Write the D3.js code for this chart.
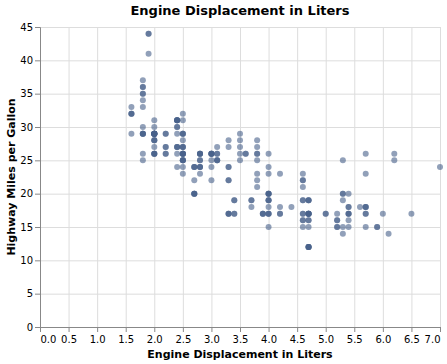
<!DOCTYPE html>
<html>
<head>
<meta charset="utf-8">
<script src="https://cdn.jsdelivr.net/npm/d3@7"></script>
<style>
  body { margin: 0; background: #fff; }
  text { font-family: "DejaVu Sans", sans-serif; }
</style>
</head>
<body>
<svg id="chart"></svg>
<script>
// engine displacement (litres), one entry per car
var displ = [
  1.8,1.8,2.0,2.0,2.8,2.8,3.1, 1.8,1.8,2.0,2.0,2.8,2.8,3.1,3.1, 2.8,3.1,4.2,
  5.3,5.3,5.3,5.7,6.0, 5.7,5.7,6.2,6.2,7.0, 5.3,5.3,5.7,6.5, 2.4,2.4,3.1,3.5,3.6,
  2.4,3.0,3.3,3.3,3.3,3.3,3.3,3.8,3.8,3.8,4.0, 3.7,3.7,3.9,3.9,4.7,4.7,4.7,5.2,5.2,
  3.9,4.7,4.7,4.7,5.2,5.7,5.9, 4.7,4.7,4.7,4.7,4.7,4.7,5.2,5.2,5.7,5.9,
  4.6,5.4,5.4, 4.0,4.0,4.0,4.0,4.6,5.0, 4.2,4.2,4.6,4.6,4.6,5.4,5.4,
  3.8,3.8,4.0,4.0,4.6,4.6,4.6,4.6,5.4,
  1.6,1.6,1.6,1.6,1.6,1.8,1.8,1.8,2.0,
  2.4,2.4,2.4,2.4,2.5,2.5,3.3, 2.0,2.0,2.0,2.0,2.7,2.7,2.7,
  3.0,3.7,4.0,4.7,4.7,4.7,5.7,6.1, 4.0,4.2,4.4,4.6, 5.4,5.4,5.4, 4.0,4.0,4.6,5.0,
  2.4,2.4,2.5,2.5,3.5,3.5, 3.0,3.0,3.5, 3.3,3.3,4.0,5.6, 3.1,3.8,3.8,3.8,5.3,
  2.5,2.5,2.5,2.5,2.5,2.5, 2.2,2.2,2.5,2.5,2.5,2.5,2.5,2.5,
  2.7,2.7,3.4,3.4,4.0,4.7, 2.2,2.2,2.4,2.4,3.0,3.0,3.5, 2.2,2.2,2.4,2.4,3.0,3.0,3.3,
  1.8,1.8,1.8,1.8,1.8, 4.7,5.7, 2.7,2.7,2.7,3.4,3.4,4.0,4.0,
  2.0,2.0,2.0,2.0,2.8, 1.9,2.0,2.0,2.0,2.0,2.5,2.5,2.8,2.8,
  1.9,1.9,2.0,2.0,2.5,2.5, 1.8,1.8,2.0,2.0,2.8,2.8,3.6
];

// highway miles per gallon, same order
var hwy = [
  29,29,31,30,26,26,27, 26,25,28,27,25,25,25,25, 24,25,23,
  20,15,20,17,17, 26,23,26,25,24, 19,14,15,17, 27,30,26,29,26,
  24,24,22,22,24,24,17,22,21,23,23, 19,18,17,17,19,19,12,17,15,
  17,17,12,17,16,18,15, 16,12,17,17,16,12,15,16,17,15,
  17,17,18, 17,19,17,19,19,17, 17,17,16,16,17,15,17,
  26,25,26,24,21,22,23,22,20,
  33,32,32,29,32,34,36,36,29,
  26,27,30,31,26,26,28, 26,29,28,29,24,24,24,
  22,19,20,17,12,19,18,14, 15,18,18,15, 16,17,18, 17,19,19,17,
  29,27,31,32,27,26, 26,25,25, 17,17,20,18, 26,26,27,28,25,
  25,24,27,25,26,23, 26,26,26,26,25,27,25,27,
  20,20,19,17,20,17, 29,27,31,31,26,26,28, 27,29,31,31,26,26,27,
  30,33,35,37,35, 15,18, 20,20,22,17,19,18,20,
  29,26,29,29,24, 44,29,26,29,29,29,29,23,24,
  44,41,29,26,28,29, 29,29,28,29,26,26,26
];

var xTicks = d3.range(0, 7.01, 0.5);
var yTicks = d3.range(0, 46, 5);

var cars = displ.map(function(d, i) { return {displ: d, hwy: hwy[i]}; });

var screen = {width: 447, height: 364};
var margins = {left: 40, top: 27};
var graph = {width: 400, height: 300};

var svg = d3.select("#chart")
  .attr("width", screen.width)
  .attr("height", screen.height);

var xScale = d3.scaleLinear().domain([0, 7]).range([0, graph.width]);
var yScale = d3.scaleLinear().domain([0, 45]).range([graph.height, 0]);

var target = svg.append("g")
  .attr("transform", "translate(" + margins.left + "," + margins.top + ")");

// grid
target.append("g").selectAll("line")
  .data(xTicks).enter().append("line")
  .attr("x1", function(d) { return xScale(d) + 0.5; })
  .attr("x2", function(d) { return xScale(d) + 0.5; })
  .attr("y1", 0).attr("y2", graph.height)
  .attr("stroke", "#ddd");
target.append("g").selectAll("line")
  .data(yTicks).enter().append("line")
  .attr("y1", function(d) { return yScale(d) + 0.5; })
  .attr("y2", function(d) { return yScale(d) + 0.5; })
  .attr("x1", 0).attr("x2", graph.width)
  .attr("stroke", "#ddd");

// axes
var xAxis = d3.axisBottom(xScale).tickValues(xTicks).tickFormat(d3.format(".1f")).tickSize(5).tickPadding(2);
var gx = target.append("g")
  .attr("transform", "translate(0," + graph.height + ")")
  .call(xAxis);
var yAxis = d3.axisLeft(yScale).tickValues(yTicks).tickSize(5).tickPadding(2);
var gy = target.append("g").call(yAxis);

[gx, gy].forEach(function(g) {
  g.select(".domain").attr("stroke", "#888");
  g.selectAll(".tick line").attr("stroke", "#888");
  g.selectAll(".tick text").attr("fill", "#000").style("font-size", "10px")
    .style("font-family", "DejaVu Sans, sans-serif");
});
gx.selectAll(".tick text").attr("dy", "0.85em");
gx.selectAll(".tick text").filter(function(d) { return d === 0; }).attr("text-anchor", "start");
gx.selectAll(".tick text").filter(function(d) { return d === 7; }).attr("text-anchor", "end");

// points
target.append("g").selectAll("circle")
  .data(cars).enter().append("circle")
  .attr("cx", function(d) { return xScale(d.displ); })
  .attr("cy", function(d) { return yScale(d.hwy); })
  .attr("r", 3)
  .attr("fill", "#48608a")
  .attr("fill-opacity", 0.6);

// titles
svg.append("text")
  .attr("x", margins.left + graph.width / 2).attr("y", 15)
  .attr("text-anchor", "middle")
  .style("font-size", "13px").style("font-weight", "bold")
  .text("Engine Displacement in Liters");
svg.append("text")
  .attr("x", margins.left + graph.width / 2).attr("y", 358)
  .attr("text-anchor", "middle")
  .style("font-size", "11px").style("font-weight", "bold")
  .text("Engine Displacement in Liters");
svg.append("text")
  .attr("transform", "translate(15," + (margins.top + graph.height / 2) + ") rotate(-90)")
  .attr("text-anchor", "middle")
  .style("font-size", "11px").style("font-weight", "bold")
  .text("Highway Miles per Gallon");
</script>
</body>
</html>
